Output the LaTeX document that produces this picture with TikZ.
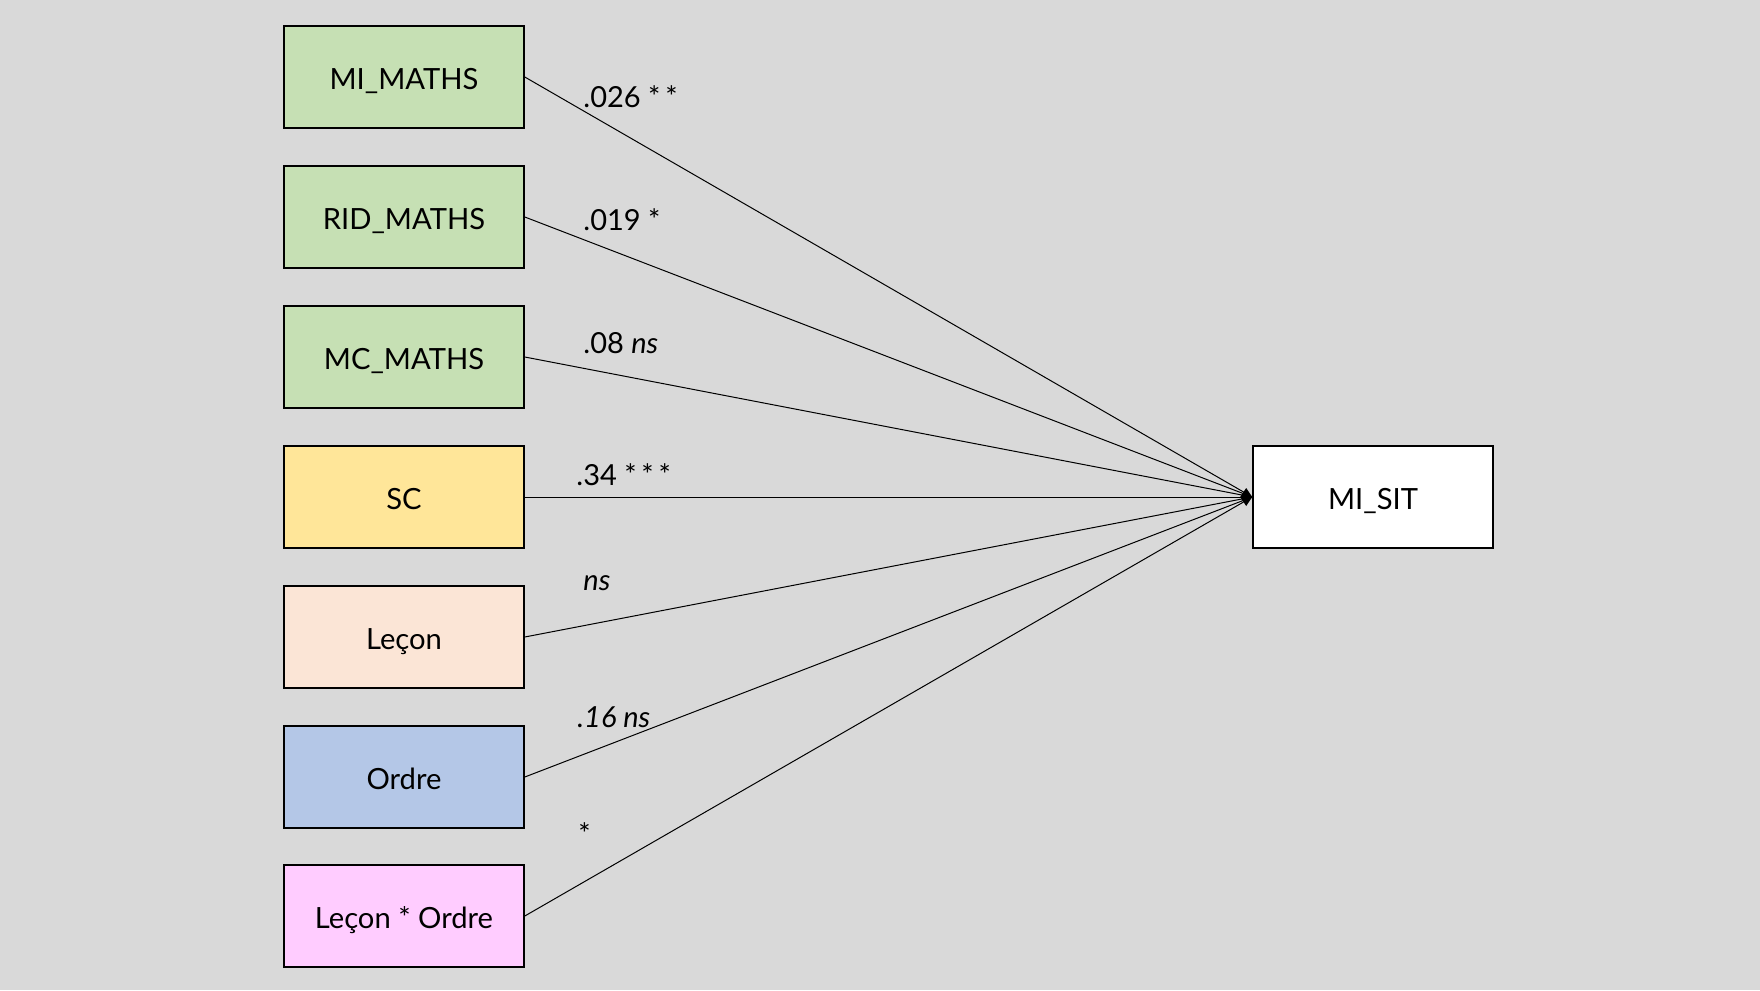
\documentclass[tikz,border=0pt]{standalone}
\usepackage{fontspec}
\setmainfont{Lato}
\usetikzlibrary{arrows.meta}
\definecolor{bgGray}{HTML}{D9D9D9}
\definecolor{mathsGreen}{HTML}{C6E0B4}
\definecolor{scYellow}{HTML}{FFE699}
\definecolor{leconPeach}{HTML}{FBE5D6}
\definecolor{ordreBlue}{HTML}{B4C7E7}
\definecolor{interPink}{HTML}{FFCCFF}
\begin{document}
\begin{tikzpicture}
[x=0.5pt,y=-0.5pt,
  boxDecorate/.style={shape=rectangle,draw,line width=0.8pt,minimum width=120pt,
    minimum height=51pt,inner sep=0pt,text height=12.6pt,text depth=0pt,
    font=\fontsize{14.6}{17}\selectfont},
  lineDecorate/.style={-,line width=0.5pt},
  labelDecorate/.style={anchor=base west,inner sep=0pt,font=\fontsize{14.5}{17}\selectfont}]
\fill[bgGray] (0,0) rectangle (1760,990);
\useasboundingbox (0,0) rectangle (1760,990);
%% predictor boxes
\foreach \nodename/\y/\colour/\txt in {
  mimaths/77/mathsGreen/MI\_MATHS, ridmaths/217/mathsGreen/RID\_MATHS,
  mcmaths/357/mathsGreen/MC\_MATHS, sc/497/scYellow/SC,
  lecon/637/leconPeach/Leçon, ordre/777/ordreBlue/Ordre,
  leconordre/916/interPink/Leçon * Ordre}
{
  \node (\nodename) at (404,\y) [boxDecorate,fill=\colour] {\txt};
}
%% outcome box
\node (misit) at (1373,497) [boxDecorate,fill=white] {MI\_SIT};
%% paths
\path
\foreach \startnode in {mimaths, ridmaths, mcmaths, lecon, ordre, leconordre}
{
  (\startnode.east) edge[lineDecorate] (misit.west)
}
(sc.east) edge[lineDecorate,-{Diamond[length=6pt,width=9pt]}] (misit.west);
%% coefficients
\foreach \labelname/\x/\y/\txt in {
  lmimaths/583/107/{.026 *\,*}, lridmaths/583/230/{.019 *},
  lmcmaths/583/353/{.08 \textit{ns}}, lsc/576/485/{.34 *\,*\,*},
  llecon/583/590/{\textit{ns}}, lordre/577/727/{\textit{.16 ns}},
  lleconordre/578/844/{*}}
{
  \node (\labelname) at (\x,\y) [labelDecorate] {\txt};
}
\end{tikzpicture}
\end{document}
